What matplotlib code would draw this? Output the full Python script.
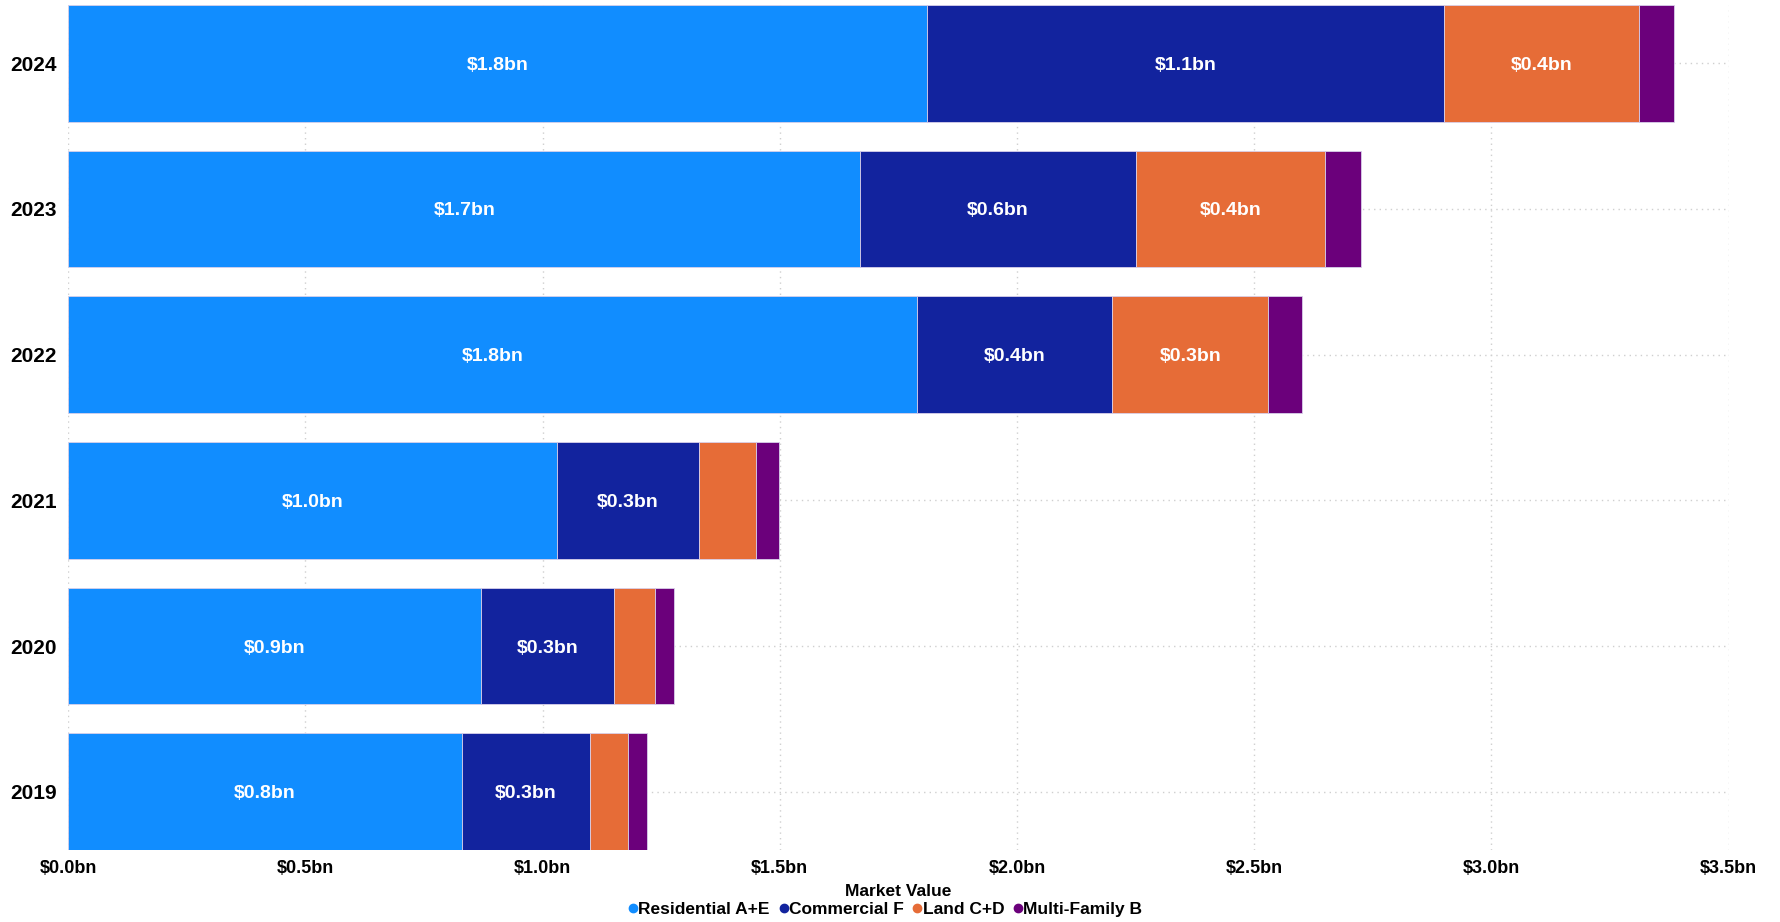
import matplotlib
matplotlib.use("Agg")
import matplotlib.pyplot as plt
import numpy as np
from matplotlib.lines import Line2D

years = ["2019", "2020", "2021", "2022", "2023", "2024"]
series_names = ["Residential A+E", "Commercial F", "Land C+D", "Multi-Family B"]
residential = [0.83, 0.87, 1.03, 1.79, 1.67, 1.81]
commercial = [0.27, 0.28, 0.30, 0.41, 0.58, 1.09]
land = [0.08, 0.086, 0.12, 0.33, 0.40, 0.41]
multifamily = [0.04, 0.041, 0.048, 0.07, 0.075, 0.075]
colors = ["#118DFF", "#12239E", "#E66C37", "#6B007B"]
xticks = [0.0, 0.5, 1.0, 1.5, 2.0, 2.5, 3.0, 3.5]
xtick_labels = ["$%.1fbn" % v for v in xticks]

FONT = ["Liberation Sans Narrow", "Liberation Sans", "DejaVu Sans"]
plt.rcParams['font.family'] = FONT

fig = plt.figure(figsize=(17.81, 9.22), dpi=100)
ax = fig.add_axes([0.0383, 0.0781, 0.9706 - 0.0383, 0.9946 - 0.0781])

y = np.arange(len(years))
left = np.zeros(len(years))
data = [residential, commercial, land, multifamily]
for vals, col, name in zip(data, colors, series_names):
    vals = np.array(vals)
    ax.barh(y, vals, left=left, height=0.8, color=col, edgecolor="#d8d0ea",
            linewidth=0.6, zorder=3, label=name)
    for yi, l, v in zip(y, left, vals):
        if v >= 0.2:
            ax.text(l + v / 2, yi, "$%.1fbn" % v, ha="center", va="center_baseline",
                    color="white", fontsize=14, fontweight="bold", zorder=4)
    left = left + vals

ax.set_xlim(0, 3.5)
ax.set_ylim(-0.4, 5.4)
ax.set_yticks(y)
ax.set_yticklabels(years, fontsize=15, fontweight="bold")
ax.set_xticks(xticks)
ax.set_xticklabels(xtick_labels, fontsize=13, fontweight="bold")
ax.tick_params(axis="both", length=0)
ax.tick_params(axis="y", pad=8)
ax.tick_params(axis="x", pad=7)
for s in ax.spines.values():
    s.set_visible(False)
ax.grid(True, which="major", axis="both", linestyle=(0, (1, 3)), color="#cfcfcf",
        linewidth=1, zorder=0)
ax.set_axisbelow(True)
ax.set_xlabel("Market Value", fontsize=12.5, fontweight="bold", labelpad=5)

handles = [Line2D([0], [0], marker="o", linestyle="", markersize=6,
                  markerfacecolor=c, markeredgecolor=c) for c in colors]
fig.legend(handles, series_names, loc="center", bbox_to_anchor=(0.496, 0.0135),
           ncol=4, frameon=False, handletextpad=-0.2, columnspacing=0.3,
           handlelength=1.0, prop={"family": FONT, "size": 12.5, "weight": "bold"})

fig.savefig("out.png", dpi=100)
